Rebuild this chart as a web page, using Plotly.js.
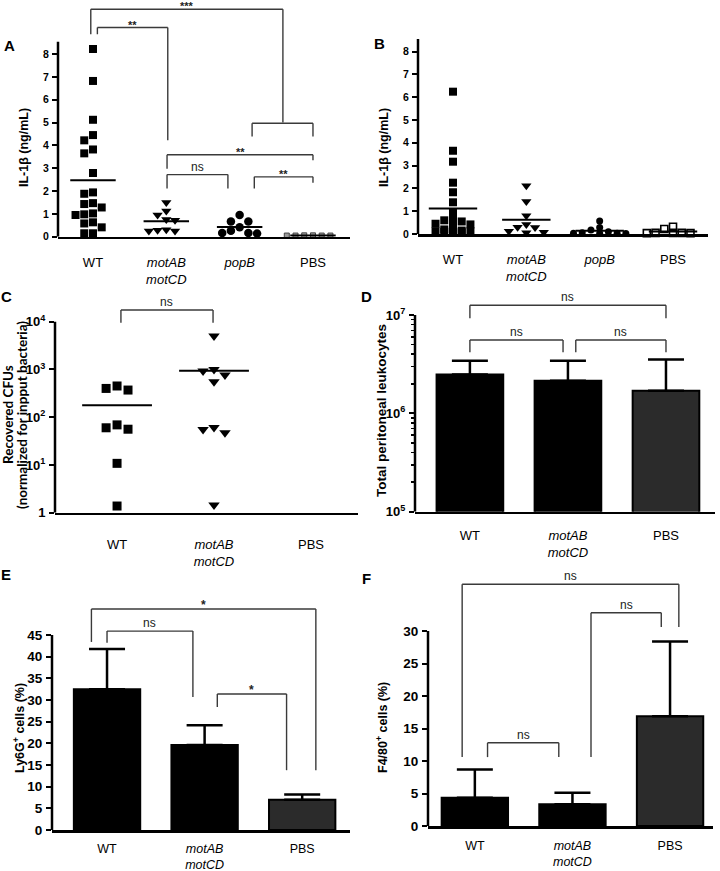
<!DOCTYPE html>
<html><head><meta charset="utf-8">
<script src="https://cdn.plot.ly/plotly-3.0.1.min.js"></script>
<style>html,body{margin:0;padding:0;background:#fff;}#chart{width:720px;height:871px;}</style>
</head><body><div id="chart"></div>
<script>
// ---------------- DATA ----------------
const groups4 = ['WT', 'motAB motCD', 'popB', 'PBS'];
const groups3 = ['WT', 'motAB motCD', 'PBS'];
const tickText4 = ['WT', '<i>motAB</i><br><i>motCD</i>', '<i>popB</i>', 'PBS'];
const tickText3 = ['WT', '<i>motAB</i><br><i>motCD</i>', 'PBS'];

// Panel A: IL-1β (ng/mL)
const aWT   = [8.22, 6.82, 5.12, 4.45, 4.22, 3.82, 3.65, 2.79, 1.88, 1.94, 1.47, 1.43, 1.28, 0.98, 1.02, 0.95, 0.63, 0.58, 0.41, 0.15, 0.15];
const aMot  = [1.5, 1.12, 0.95, 0.75, 0.72, 0.28, 0.25, 0.25, 0.3];
const aPopB = [0.95, 0.67, 0.67, 0.41, 0.16, 0.14, 0.16, 0.26];
const aPBS  = [0.06, 0.05, 0.05, 0.06, 0.05, 0.05];

// Panel B: IL-1β (ng/mL)
const bWT   = [6.24, 3.65, 3.17, 2.25, 1.83, 1.39, 0.96, 0.62, 0.6, 0.55, 0.45, 0.42, 0.4, 0.15, 0.12, 0.12, 0.1, 0.15, 0.2, 0.1, 0.08];
const bMot  = [2.12, 1.42, 0.8, 0.42, 0.3, 0.28, 0.12, 0.08, 0.05];
const bPopB = [0.57, 0.28, 0.18, 0.1, 0.05, 0.03, 0.03, 0.02, 0.02];
const bPBS  = [0.22, 0.32, 0.05, 0.05, 0.04, 0.04, 0.05];

// Panel C: recovered CFUs (normalized for input bacteria)
const cWT  = [400, 370, 450, 69, 56, 60, 10.8, 1.38];
const cMot = [5000, 930, 1000, 760, 550, 55, 47, 61, 1.45];
const cTickVals = [1, 10, 100, 1000, 10000];
const cTickText = ['1', '10<sup>1</sup>', '10<sup>2</sup>', '10<sup>3</sup>', '10<sup>4</sup>'];

// Panel D: total peritoneal leukocytes (mean, SD)
const dMean = [2.49e6, 2.15e6, 1.70e6];
const dSD   = [0.95e6, 1.29e6, 1.84e6];
const dTickVals = [1e5, 1e6, 1e7];
const dTickText = ['10<sup>5</sup>', '10<sup>6</sup>', '10<sup>7</sup>'];

// Panel E: Ly6G+ cells (%)
const eMean = [32.5, 19.6, 7.0];
const eSD   = [9.3, 4.6, 1.2];

// Panel F: F4/80+ cells (%)
const fMean = [4.36, 3.33, 16.9];
const fSD   = [4.34, 1.8, 11.5];

// significance labels
const sigA = ['***', '', '**', '**', 'ns', '**'];
const sigC = ['ns'];
const sigD = ['ns', 'ns', 'ns'];
const sigE = ['*', 'ns', '*'];
const sigF = ['ns', 'ns', 'ns'];

// ---------------- LAYOUT GEOMETRY ----------------
const W = 720, H = 871;
const FONT = 'Liberation Sans, Arial, sans-serif';
const geo = {
  A: {n: '',  xpx: [58, 350],  ypx: [4, 236.7],   xr: [-0.477, 3.505], yr: [0, 10.19], top: 8.54, log: false},
  B: {n: '2', xpx: [418, 708], ypx: [39, 234],    xr: [-0.477, 3.477], yr: [0, 8.55],  top: 8.55, log: false},
  C: {n: '3', xpx: [55, 358],  ypx: [304, 512.7], xr: [-0.64, 2.485],  yr: [0, 4.37],  top: 1e4,  log: true},
  D: {n: '4', xpx: [415, 715], ypx: [302, 511.7], xr: [-0.56, 2.5],    yr: [5, 7.133], top: 1e7,  log: true},
  E: {n: '5', xpx: [52, 350],  ypx: [600, 830],   xr: [-0.564, 2.49],  yr: [0, 53.08], top: 45,   log: false},
  F: {n: '6', xpx: [428, 713], ypx: [580, 826],   xr: [-0.48, 2.44],   yr: [0, 37.85], top: 30,   log: false}
};
// bracket geometry (x in group units, y in data units): [x0, x1, top, leftEnd, rightEnd]
const brA = [[-0.03, 2.59, 9.96, 8.87, 5.0], [2.17, 3.0, 4.97, 4.39, 4.39], [0.06, 1.02, 9.16, 8.87, 4.22],
             [1.01, 3.0, 3.59, 2.98, 3.35], [1.01, 1.84, 2.72, 2.11, 2.11], [2.2, 3.0, 2.62, 2.11, 2.36]];
const brC = [[0.04, 0.99, 17580, 9500, 9500]];
const brD = [[0, 2, 1.26e7, 9.3e6, 9.3e6], [0, 0.95, 5.58e6, 4.19e6, 4.19e6], [1.08, 2, 5.58e6, 4.19e6, 4.19e6]];
const brE = [[-0.16, 2.14, 51, 43.4, 13.8], [0, 0.88, 45.9, 43.2, 30.7], [1.13, 1.84, 31.4, 28.4, 13.8]];
const brF = [[-0.13, 2.09, 37.2, 10.6, 30.6], [1.19, 1.91, 32.8, 10.6, 30.6], [0.13, 0.86, 12.8, 10.6, 10.6]];

const traces = [];
const layout = {width: W, height: H, margin: {l: 0, r: 0, t: 0, b: 0}, paper_bgcolor: '#fff', plot_bgcolor: 'rgba(0,0,0,0)',
  showlegend: false, shapes: [], annotations: [], font: {family: FONT, color: '#000'}};

// GraphPad-like column scatter: spread points horizontally when they would overlap vertically
function swarm(vals, g, stepUnits, d, maxCol) {
  const ppu = (g.ypx[1] - g.ypx[0]) / (g.yr[1] - g.yr[0]);
  const toPx = v => (g.log ? Math.log10(v) : v) * ppu;
  const idx = vals.map((v, i) => i).sort((a, b) => vals[b] - vals[a]);
  const placed = [], off = vals.map(() => 0);
  const cands = [0];
  for (let k = 1; k <= maxCol; k++) cands.push(-k, k);
  idx.forEach(i => {
    const p = toPx(vals[i]);
    let best = null, bestGap = -1;
    for (const c of cands) {
      const gaps = placed.filter(q => q.c === c).map(q => Math.abs(q.p - p));
      const gap = gaps.length ? Math.min(...gaps) : Infinity;
      if (gap >= d) { best = c; break; }
      if (gap > bestGap) { bestGap = gap; best = c; }
    }
    off[i] = best; placed.push({c: best, p});
  });
  return off.map(c => c * stepUnits);
}
function dots(vals, gi, g, sym, size, color, lcolor, lw, step, d, maxCol) {
  const off = swarm(vals, g, step, d, maxCol);
  traces.push({type: 'scatter', mode: 'markers', x: vals.map((v, i) => gi + off[i]), y: vals,
    xaxis: 'x' + g.n, yaxis: 'y' + g.n, cliponaxis: false, hoverinfo: 'skip',
    marker: {symbol: sym, size: size, color: color, line: {color: lcolor, width: lw}}});
}
function meanLine(vals, gi, g, hw) {
  const m = vals.reduce((a, b) => a + b, 0) / vals.length;
  traces.push({type: 'scatter', mode: 'lines', x: [gi - hw, gi + hw], y: [m, m], xaxis: 'x' + g.n, yaxis: 'y' + g.n,
    cliponaxis: false, hoverinfo: 'skip', line: {color: '#000', width: 2}});
}
function bars(means, sds, g) {
  traces.push({type: 'bar', x: means.map((v, i) => i), y: means, width: 0.68, xaxis: 'x' + g.n, yaxis: 'y' + g.n,
    hoverinfo: 'skip', marker: {color: ['#000', '#000', '#2b2b2b'], line: {color: '#000', width: 2}},
    error_y: {type: 'data', symmetric: false, array: sds, arrayminus: sds.map(() => 0), color: '#000', thickness: 2.5, width: 18}});
}
function axes(g, xt, ytv, ytt, yfs, xls, xfs) {
  layout['xaxis' + g.n] = {domain: [g.xpx[0] / W, g.xpx[1] / W], range: g.xr, anchor: 'y' + g.n,
    tickmode: 'array', tickvals: xt.map((t, i) => i), ticktext: xt, ticks: '', showline: true, linewidth: 2.5,
    linecolor: '#000', showgrid: false, zeroline: false, fixedrange: true, ticklabelstandoff: xls,
    tickfont: {family: FONT, size: xfs || 13, color: '#000'}};
  layout['yaxis' + g.n] = {domain: [1 - g.ypx[1] / H, 1 - g.ypx[0] / H], range: g.yr, type: g.log ? 'log' : 'linear',
    anchor: 'x' + g.n, tickmode: 'array', tickvals: ytv, ticktext: ytt, ticks: 'outside', ticklen: 5, tickwidth: 2,
    tickcolor: '#000', showline: false, showgrid: false, zeroline: false, fixedrange: true, ticklabelstandoff: 1,
    tickfont: {family: FONT, size: yfs, color: '#000', weight: 'bold'}};
  layout.shapes.push({type: 'line', xref: 'x' + g.n + ' domain', yref: 'y' + g.n, x0: 0, x1: 0,
    y0: g.log ? Math.pow(10, g.yr[0]) : g.yr[0], y1: g.top, line: {color: '#000', width: 2.5}});
}
function brackets(list, labels, g, starSize) {
  list.forEach((b, k) => {
    const [x0, x1, top, l, r] = b;
    const ln = {color: '#3a3a3a', width: 1.4};
    const base = {type: 'line', xref: 'x' + g.n, yref: 'y' + g.n, line: ln};
    layout.shapes.push(Object.assign({}, base, {x0: x0, x1: x0, y0: l, y1: top}));
    layout.shapes.push(Object.assign({}, base, {x0: x0, x1: x1, y0: top, y1: top}));
    layout.shapes.push(Object.assign({}, base, {x0: x1, x1: x1, y0: r, y1: top}));
    if (labels[k]) {
      const star = labels[k].indexOf('*') >= 0;
      layout.annotations.push({xref: 'x' + g.n, yref: 'y' + g.n, x: (x0 + x1) / 2, y: g.log ? Math.log10(top) : top,
        yanchor: 'bottom', xanchor: 'center', showarrow: false, text: labels[k], yshift: star ? -5 : -1,
        font: {family: FONT, size: star ? starSize : 12, color: '#222', weight: star ? 'bold' : 'normal'}});
    }
  });
}
function paperText(text, px, py, size, angle, extra) {
  layout.annotations.push(Object.assign({xref: 'paper', yref: 'paper', x: px / W, y: 1 - py / H, text: text,
    showarrow: false, xanchor: 'center', yanchor: 'middle', textangle: angle || 0,
    font: {family: FONT, size: size, color: '#000', weight: 'bold'}}, extra || {}));
}
function rangeTicks(a, b, s) { const out = []; for (let v = a; v <= b + 1e-9; v += s) out.push(v); return out; }

// ---- Panel A ----
const gA = geo.A, stA = 0.119;
dots(aWT, 0, gA, 'square', 8, '#000', '#000', 0, stA, 8, 3);
dots(aMot, 1, gA, 'triangle-down', 9, '#000', '#000', 0, stA, 8, 3);
dots(aPopB, 2, gA, 'circle', 8.5, '#000', '#000', 0, stA, 8, 3);
dots(aPBS, 3, gA, 'square', 5, '#9a9a9a', '#444', 1, stA, 8, 3);
[aWT, aMot, aPopB, aPBS].forEach((v, i) => meanLine(v, i, gA, 0.31));
const tA = rangeTicks(0, 8, 1);
axes(gA, tickText4, tA, tA.map(String), 10.5, 12, 13);
brackets(brA, sigA, gA, 11);

// ---- Panel B ----
const gB = geo.B;
dots(bWT, 0, gB, 'square', 8, '#000', '#000', 0, stA, 5, 2);
dots(bMot, 1, gB, 'triangle-down', 9, '#000', '#000', 0, stA, 8, 3);
dots(bPopB, 2, gB, 'circle', 7, '#000', '#000', 0, stA, 6, 3);
dots(bPBS, 3, gB, 'square-open', 7, '#000', '#000', 1.6, stA, 6, 3);
[bWT, bMot, bPopB, bPBS].forEach((v, i) => meanLine(v, i, gB, 0.33));
axes(gB, tickText4, tA, tA.map(String), 10.5, 12, 13);

// ---- Panel C ----
const gC = geo.C;
dots(cWT, 0, gC, 'square', 9, '#000', '#000', 0, 0.113, 9, 3);
dots(cMot, 1, gC, 'triangle-down', 10, '#000', '#000', 0, 0.113, 9, 3);
[cWT, cMot].forEach((v, i) => meanLine(v, i, gC, 0.36));
axes(gC, tickText3, cTickVals, cTickText, 13, 18, 13);
brackets(brC, sigC, gC, 12);

// ---- Panel D ----
const gD = geo.D;
bars(dMean, dSD, gD);
axes(gD, tickText3, dTickVals, dTickText, 13, 10, 13);
const dMinor = [];
[1e5, 1e6].forEach(dec => { for (let m = 2; m <= 9; m++) dMinor.push(m * dec); });
layout.yaxis4.minor = {tickvals: dMinor, ticks: 'outside', ticklen: 3, tickwidth: 1.5, tickcolor: '#000', showgrid: false};
brackets(brD, sigD, gD, 12);

// ---- Panel E ----
const gE = geo.E;
bars(eMean, eSD, gE);
const tE = rangeTicks(0, 45, 5);
axes(gE, tickText3, tE, tE.map(String), 13.5, 5, 12.5);
brackets(brE, sigE, gE, 12);

// ---- Panel F ----
const gF = geo.F;
bars(fMean, fSD, gF);
const tF = rangeTicks(0, 30, 5);
axes(gF, tickText3, tF, tF.map(String), 13.5, 6, 12.5);
brackets(brF, sigF, gF, 12);

// ---- Panel letters and axis titles ----
paperText('A', 9, 46, 15);
paperText('B', 379, 43, 15);
paperText('C', 6, 296, 15);
paperText('D', 366, 296, 15);
paperText('E', 6, 574, 15);
paperText('F', 366, 578, 15);
paperText('IL-1β (ng/mL)', 24, 148, 12.5, -90);
paperText('IL-1β (ng/mL)', 384, 148, 12.5, -90);
const calib = {font: {family: 'Lato, Liberation Sans, sans-serif', size: 13.5, color: '#000', weight: 'bold'}};
paperText('Recovered CFUs', 8, 415, 13, -90, calib);
paperText('(normalized for inpput bacteria)', 22, 415, 13, -90, calib);
paperText('Total peritoneal leukocytes', 381, 411, 13.5, -90);
paperText('Ly6G<sup>+</sup> cells (%)', 19, 728, 12.5, -90);
paperText('F4/80<sup>+</sup> cells (%)', 382, 728, 12.5, -90);

Plotly.newPlot('chart', traces, layout, {staticPlot: true, displayModeBar: false});
</script>
</body></html>
